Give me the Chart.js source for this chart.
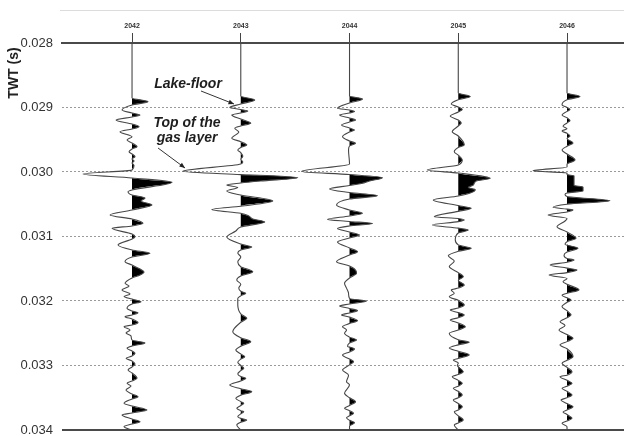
<!DOCTYPE html>
<html>
<head>
<meta charset="utf-8">
<script src="https://cdn.jsdelivr.net/npm/chart.js@4.4.0/dist/chart.umd.min.js"></script>
<style>
  html, body { margin: 0; padding: 0; background: #fff; }
</style>
</head>
<body>
<canvas id="seis" width="624" height="436"></canvas>
<script>
// trace numbers (shot / CDP) along the top axis
var traces = [2042, 2043, 2044, 2045, 2046];
var yTicks = [0.028, 0.029, 0.030, 0.031, 0.032, 0.033, 0.034];

// [two-way time (ms), relative amplitude]
var tr2042 = [[28.000,0],[28.853,0],[28.910,16],[28.961,0],[29.039,-10],[29.085,0],[29.116,8],[29.147,0],[29.194,-16],[29.256,0],[29.298,7],[29.333,0],[29.375,-12],[29.453,0],[29.504,-5],[29.550,0],[29.608,5],[29.643,0],[29.685,-3],[29.721,0],[29.763,3],[29.798,0],[29.829,2],[29.860,0],[29.899,2],[29.969,0],[30.031,-49],[30.093,0],[30.160,40],[30.279,0],[30.305,-4],[30.357,0],[30.403,13],[30.450,9],[30.512,20],[30.589,0],[30.667,-22],[30.729,0],[30.795,11],[30.837,0],[30.873,-20],[30.961,0],[31.003,3],[31.039,0],[31.132,-14],[31.209,0],[31.260,18],[31.318,0],[31.390,-7],[31.442,0],[31.504,8],[31.550,12],[31.597,8],[31.643,0],[31.726,-7],[31.767,-3],[31.829,-10],[31.890,-2],[31.930,-8],[31.969,0],[32.011,9],[32.047,0],[32.113,-5],[32.155,0],[32.181,6],[32.217,0],[32.243,-7],[32.279,0],[32.336,6],[32.372,0],[32.398,-8],[32.450,-2],[32.496,-6],[32.543,-1],[32.605,0],[32.651,13],[32.698,0],[32.733,-5],[32.775,0],[32.811,3],[32.853,0],[32.888,-6],[32.930,0],[32.977,3],[33.023,0],[33.070,-4],[33.116,0],[33.198,5],[33.240,0],[33.276,-5],[33.318,-1],[33.380,-6],[33.442,0],[33.483,6],[33.519,0],[33.586,-8],[33.628,0],[33.690,15],[33.736,0],[33.767,-10],[33.829,0],[33.871,8],[33.907,0],[33.949,-8],[34.000,0]];
var tr2043 = [[28.000,0],[28.822,0],[28.884,14],[28.946,0],[29.000,-11],[29.031,0],[29.054,7],[29.085,0],[29.116,-9],[29.180,0],[29.245,10],[29.287,0],[29.322,-6],[29.380,-2],[29.477,-9],[29.530,0],[29.581,6],[29.620,0],[29.659,-3],[29.700,0],[29.760,2],[29.800,0],[29.845,2],[29.876,0],[29.990,-58],[30.040,0],[30.065,40],[30.090,57],[30.140,20],[30.171,0],[30.202,-14],[30.240,-3],[30.295,-14],[30.357,0],[30.450,32],[30.530,0],[30.581,-29],[30.640,0],[30.682,8],[30.729,12],[30.775,24],[30.853,0],[30.915,-5],[31.008,-14],[31.116,0],[31.163,11],[31.209,0],[31.256,-3],[31.318,0],[31.395,-3],[31.468,0],[31.546,12],[31.612,0],[31.674,-4],[31.740,0],[31.800,-2],[31.850,0],[31.881,5],[31.920,0],[31.960,-3],[32.060,-3],[32.200,0],[32.268,6],[32.330,0],[32.476,-8],[32.570,0],[32.631,10],[32.700,0],[32.760,-5],[32.820,0],[32.864,4],[32.900,0],[32.950,-3],[33.000,0],[33.043,3],[33.080,0],[33.130,-3],[33.170,0],[33.198,5],[33.240,0],[33.302,-11],[33.360,0],[33.406,11],[33.460,0],[33.509,-5],[33.560,0],[33.586,3],[33.620,0],[33.664,-4],[33.700,0],[33.716,3],[33.750,0],[33.793,-3],[33.820,0],[33.845,6],[33.880,0],[33.922,-4],[34.000,0]];
var tr2044 = [[28.000,0],[28.822,0],[28.868,13],[28.930,0],[29.012,-12],[29.039,0],[29.062,5],[29.085,0],[29.116,-10],[29.163,0],[29.194,6],[29.225,0],[29.271,-8],[29.318,0],[29.349,5],[29.380,0],[29.453,-7],[29.519,0],[29.555,6],[29.597,0],[29.659,-1],[29.876,0],[29.992,-48],[30.039,0],[30.088,33],[30.140,20],[30.178,12],[30.209,0],[30.264,-20],[30.318,0],[30.367,28],[30.419,0],[30.512,-13],[30.589,0],[30.640,13],[30.682,0],[30.736,-22],[30.767,0],[30.798,23],[30.837,0],[30.876,-12],[30.930,0],[30.977,10],[31.023,0],[31.085,-12],[31.178,0],[31.236,8],[31.287,0],[31.391,-13],[31.457,0],[31.504,5],[31.571,7],[31.643,0],[31.726,-5],[31.800,-3],[31.880,-1],[31.960,0],[32.000,17],[32.047,0],[32.078,-10],[32.115,0],[32.150,8],[32.185,0],[32.217,-8],[32.250,0],[32.305,8],[32.350,0],[32.398,-7],[32.450,-3],[32.501,-5],[32.560,0],[32.605,7],[32.650,0],[32.700,-2],[32.744,5],[32.790,0],[32.837,-7],[32.900,0],[32.940,4],[32.990,0],[33.070,-7],[33.150,-1],[33.250,-3],[33.300,0],[33.431,-5],[33.500,0],[33.561,6],[33.620,0],[33.664,-5],[33.700,0],[33.741,4],[33.780,0],[33.810,-3],[33.850,0],[33.886,5],[33.940,0],[34.000,0]];
var tr2045 = [[28.000,0],[28.775,0],[28.829,12],[28.880,0],[28.946,-7],[28.992,0],[29.031,4],[29.070,0],[29.132,-8],[29.194,0],[29.240,3],[29.287,0],[29.375,-6],[29.442,0],[29.581,6],[29.620,0],[29.685,-4],[29.740,0],[29.814,4],[29.891,0],[29.969,-31],[30.016,0],[30.098,32],[30.140,18],[30.202,15],[30.240,10],[30.275,17],[30.326,12],[30.372,0],[30.434,-25],[30.520,0],[30.563,13],[30.610,0],[30.693,-24],[30.720,0],[30.744,6],[30.770,0],[30.822,-26],[30.870,0],[30.899,10],[30.946,0],[31.050,-3],[31.130,0],[31.183,13],[31.230,0],[31.300,-10],[31.380,-4],[31.467,-9],[31.560,0],[31.623,5],[31.680,0],[31.752,6],[31.800,0],[31.829,-7],[31.880,-4],[31.933,-9],[31.990,0],[32.062,6],[32.110,0],[32.140,-8],[32.180,0],[32.217,6],[32.260,0],[32.295,-8],[32.340,0],[32.398,7],[32.450,0],[32.501,-9],[32.600,0],[32.640,11],[32.680,0],[32.730,-9],[32.780,0],[32.837,11],[32.890,0],[32.915,-5],[32.960,0],[33.000,-1],[33.096,5],[33.140,0],[33.174,-6],[33.230,0],[33.276,4],[33.320,0],[33.353,-5],[33.400,0],[33.457,4],[33.500,0],[33.535,-5],[33.590,0],[33.639,4],[33.690,0],[33.716,-4],[33.780,0],[33.845,5],[33.890,0],[33.922,-4],[34.000,0]];
var tr2046 = [[28.000,0],[28.775,0],[28.829,13],[28.880,0],[28.960,-5],[29.000,0],[29.030,3],[29.060,0],[29.116,-5],[29.160,0],[29.200,3],[29.240,0],[29.290,-4],[29.330,0],[29.364,-5],[29.400,0],[29.442,3],[29.480,0],[29.550,6],[29.600,0],[29.659,-5],[29.720,0],[29.814,8],[29.880,0],[29.922,0],[29.980,-34],[30.016,0],[30.040,0],[30.060,7],[30.210,7],[30.233,16],[30.295,16],[30.326,0],[30.350,-2],[30.380,0],[30.445,43],[30.500,0],[30.547,-14],[30.575,0],[30.589,6],[30.620,0],[30.667,-19],[30.720,0],[30.760,-2],[30.848,-10],[30.930,0],[31.028,9],[31.080,0],[31.120,-2],[31.183,11],[31.240,0],[31.290,-3],[31.340,0],[31.364,7],[31.400,0],[31.442,-17],[31.490,0],[31.519,10],[31.560,0],[31.597,-18],[31.650,0],[31.700,-4],[31.740,0],[31.829,12],[31.880,0],[31.910,-5],[31.950,0],[31.984,4],[32.020,0],[32.088,-5],[32.150,0],[32.217,4],[32.260,0],[32.321,-7],[32.380,-2],[32.450,-8],[32.520,0],[32.578,6],[32.630,0],[32.682,-7],[32.740,0],[32.864,6],[32.920,0],[32.966,-5],[33.030,0],[33.096,5],[33.150,0],[33.174,-7],[33.230,0],[33.276,5],[33.320,0],[33.353,-5],[33.400,0],[33.457,5],[33.500,0],[33.535,-6],[33.590,0],[33.639,6],[33.690,0],[33.720,-4],[33.760,0],[33.819,5],[33.860,0],[33.895,-5],[33.950,0],[34.000,0]];
var wiggles = [tr2042, tr2043, tr2044, tr2045, tr2046];

var AMP_PER_TRACE = 108.75;  // amplitude units that make one trace spacing
var X_MIN = 2041.356, X_MAX = 2046.524;

var lineSets = [], fillSets = [];
traces.forEach(function (tr, k) {
    var w = wiggles[k];
    lineSets.push({
        data: w.map(function (p) { return {x: tr + p[1] / AMP_PER_TRACE, y: p[0] / 1000}; }),
        borderColor: '#474747', borderWidth: 1.1, pointRadius: 0, fill: false,
        cubicInterpolationMode: 'monotone'
    });
    // positive lobes only, shaded black towards the trace baseline
    fillSets.push({
        data: w.map(function (p) { return {x: tr + Math.max(p[1], 0) / AMP_PER_TRACE, y: p[0] / 1000}; }),
        borderColor: 'transparent', borderWidth: 0, backgroundColor: '#000', pointRadius: 0,
        fill: {value: tr}, cubicInterpolationMode: 'monotone'
    });
});

function isEdge(ctx) {
    return ctx.tick && (Math.abs(ctx.tick.value - yTicks[0]) < 1e-7 ||
                        Math.abs(ctx.tick.value - yTicks[yTicks.length - 1]) < 1e-7);
}

var notes = [
    {text: 'Lake-floor', x: 2042.515, t: 28.636},
    {text: 'Top of the', x: 2042.506, t: 29.240},
    {text: 'gas layer', x: 2042.506, t: 29.473}
];
var arrows = [
    {x1: 2042.634, t1: 28.744, x2: 2042.938, t2: 28.946},
    {x1: 2042.239, t1: 29.628, x2: 2042.487, t2: 29.938}
];

var decor = {
    id: 'decor',
    beforeDraw: function (chart) {
        var c = chart.ctx, a = chart.chartArea;
        c.save();
        c.strokeStyle = '#dcdcdc';
        c.lineWidth = 1;
        c.beginPath();
        c.moveTo(a.left - 2, 10.5);
        c.lineTo(chart.width, 10.5);
        c.stroke();
        // axis title
        c.translate(14, a.top + 30);
        c.rotate(-Math.PI / 2);
        c.fillStyle = '#222';
        c.font = 'bold 14px Arial';
        c.textAlign = 'center';
        c.textBaseline = 'middle';
        c.fillText('TWT (s)', 0, 0);
        c.restore();
    },
    afterDatasetsDraw: function (chart) {
        var c = chart.ctx, xs = chart.scales.x, ys = chart.scales.y;
        c.save();
        c.fillStyle = '#1e1e1e';
        c.font = 'italic bold 14px Arial';
        c.textAlign = 'center';
        c.textBaseline = 'middle';
        notes.forEach(function (n) {
            c.fillText(n.text, xs.getPixelForValue(n.x), ys.getPixelForValue(n.t / 1000));
        });
        c.strokeStyle = '#333';
        c.lineWidth = 1;
        arrows.forEach(function (ar) {
            var x1 = xs.getPixelForValue(ar.x1), y1 = ys.getPixelForValue(ar.t1 / 1000);
            var x2 = xs.getPixelForValue(ar.x2), y2 = ys.getPixelForValue(ar.t2 / 1000);
            var ang = Math.atan2(y2 - y1, x2 - x1);
            c.beginPath();
            c.moveTo(x1, y1);
            c.lineTo(x2, y2);
            c.stroke();
            c.beginPath();
            c.moveTo(x2, y2);
            c.lineTo(x2 - 6 * Math.cos(ang - 0.4), y2 - 6 * Math.sin(ang - 0.4));
            c.lineTo(x2 - 6 * Math.cos(ang + 0.4), y2 - 6 * Math.sin(ang + 0.4));
            c.closePath();
            c.fillStyle = '#222';
            c.fill();
        });
        c.restore();
    }
};

new Chart(document.getElementById('seis'), {
    type: 'line',
    data: { datasets: lineSets.concat(fillSets) },
    plugins: [decor],
    options: {
        responsive: false,
        animation: false,
        indexAxis: 'y',
        layout: { padding: { left: 0, right: 0, top: 0, bottom: 6 } },
        plugins: {
            legend: { display: false },
            tooltip: { enabled: false },
            filler: { propagate: false }
        },
        scales: {
            x: {
                type: 'linear',
                position: 'top',
                min: X_MIN,
                max: X_MAX,
                afterBuildTicks: function (s) {
                    s.ticks = traces.map(function (v) { return {value: v}; });
                },
                afterFit: function (s) { s.height = 43; s.paddingLeft = 0; s.paddingRight = 0; },
                ticks: {
                    autoSkip: false,
                    maxRotation: 0,
                    padding: 3,
                    color: '#333',
                    font: { family: 'Arial', size: 7, weight: 'bold' },
                    callback: function (v) { return String(v); }
                },
                grid: { drawOnChartArea: false, drawTicks: true, tickLength: 10, tickColor: '#444', tickWidth: 1 },
                border: { display: true, color: '#4a4a4a', width: 2 }
            },
            y: {
                type: 'linear',
                reverse: true,
                min: yTicks[0],
                max: yTicks[yTicks.length - 1],
                afterBuildTicks: function (s) {
                    s.ticks = yTicks.map(function (v) { return {value: v}; });
                },
                afterFit: function (s) { s.width = 62; s.paddingTop = 0; s.paddingBottom = 0; },
                ticks: {
                    padding: 9,
                    color: '#333',
                    font: { family: 'Arial', size: 13 },
                    callback: function (v) { return v.toFixed(3); }
                },
                grid: {
                    drawTicks: false,
                    color: function (ctx) { return isEdge(ctx) ? '#4a4a4a' : '#9a9a9a'; },
                    lineWidth: function (ctx) { return isEdge(ctx) ? 2 : 1; }
                },
                border: {
                    display: false,
                    dash: function (ctx) { return isEdge(ctx) ? [] : [2, 2]; }
                }
            }
        }
    }
});
</script>
</body>
</html>
